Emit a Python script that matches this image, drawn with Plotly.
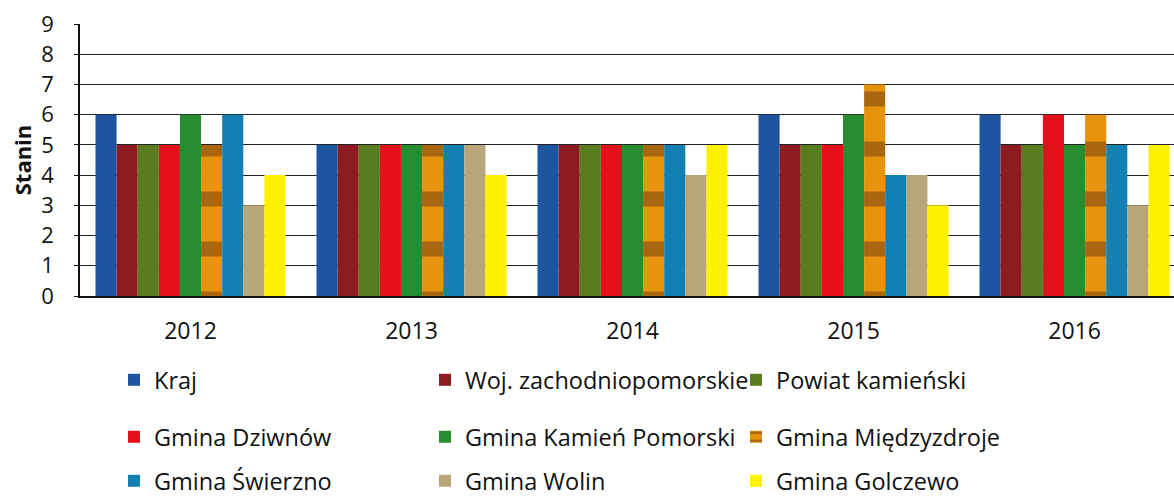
import plotly.graph_objects as go

years = ["2012", "2013", "2014", "2015", "2016"]
series_names = [
    "Kraj", "Woj. zachodniopomorskie", "Powiat kamieński",
    "Gmina Dziwnów", "Gmina Kamień Pomorski", "Gmina Międzyzdroje",
    "Gmina Świerzno", "Gmina Wolin", "Gmina Golczewo",
]
kraj = [6, 5, 5, 6, 6]
woj = [5, 5, 5, 5, 5]
powiat = [5, 5, 5, 5, 5]
dziwnow = [5, 5, 5, 5, 6]
kamien = [6, 5, 5, 6, 5]
miedzyzdroje = [5, 5, 5, 7, 6]
swierzno = [6, 5, 5, 4, 5]
wolin = [3, 5, 4, 4, 3]
golczewo = [4, 4, 5, 3, 5]
values = [kraj, woj, powiat, dziwnow, kamien, miedzyzdroje, swierzno, wolin, golczewo]
y_ticks = list(range(0, 10))

colors = ["#1D55A0", "#8C1C20", "#5A7C20", "#E5101C", "#2A8C30",
          "#D8890F", "#1280B2", "#B8A57A", "#FFF100"]
legend_ids = ["legend", "legend", "legend",
              "legend2", "legend2", "legend2",
              "legend3", "legend3", "legend3"]

FONT = "Open Sans"
fig = go.Figure()
for i, (name, vals) in enumerate(zip(series_names, values)):
    marker = dict(color=colors[i], line=dict(width=0))
    if name == "Gmina Międzyzdroje":
        marker["pattern"] = dict(shape="-", fgcolor="#6A3A12", bgcolor="#E8930E",
                                 size=50, solidity=0.3, fillmode="overlay")
    fig.add_trace(go.Bar(x=years, y=vals, name=name, marker=marker,
                         legend=legend_ids[i]))

plot_left, plot_top, plot_bottom, W, H = 80, 24, 296, 1174, 499
plot_w = W - plot_left

def cy(p):
    return (H - p) / H

leg_common = dict(orientation="h", x=(114 - plot_left) / plot_w, xanchor="left",
                  yanchor="middle", yref="container",
                  entrywidth=266, entrywidthmode="pixels", itemwidth=30,
                  font=dict(family=FONT, size=23.5, color="#111111"),
                  bgcolor="rgba(0,0,0,0)", traceorder="normal")

fig.update_layout(
    width=W, height=H,
    margin=dict(l=plot_left, r=0, t=plot_top, b=H - plot_bottom),
    plot_bgcolor="white", paper_bgcolor="white",
    barmode="group", bargap=0.14, bargroupgap=0,
    font=dict(family=FONT, color="#111111"),
    showlegend=True,
    legend=dict(leg_common, y=cy(380)),
    legend2=dict(leg_common, y=cy(437)),
    legend3=dict(leg_common, y=cy(481)),
    xaxis=dict(range=[-0.5, 4.45], showline=True, linecolor="#111111", linewidth=1.5,
               ticks="", tickfont=dict(family=FONT, size=23, color="#111111"),
               ticklabelstandoff=14, showgrid=False, automargin=False),
    yaxis=dict(range=[0, 9], tickvals=y_ticks, showline=True, linecolor="#111111",
               linewidth=1.5, ticks="outside", ticklen=4, tickcolor="#111111",
               showgrid=True, gridcolor="#222222", gridwidth=1,
               tickfont=dict(family=FONT, size=22, color="#111111"),
               ticklabelstandoff=16, automargin=False,
               title=dict(text="<b>Stanin</b>", font=dict(family=FONT, size=22),
                          standoff=4),
               zeroline=False),
)

fig.write_html("out.html", config={"displayModeBar": False},
               post_script="document.body.style.margin='0px';")
